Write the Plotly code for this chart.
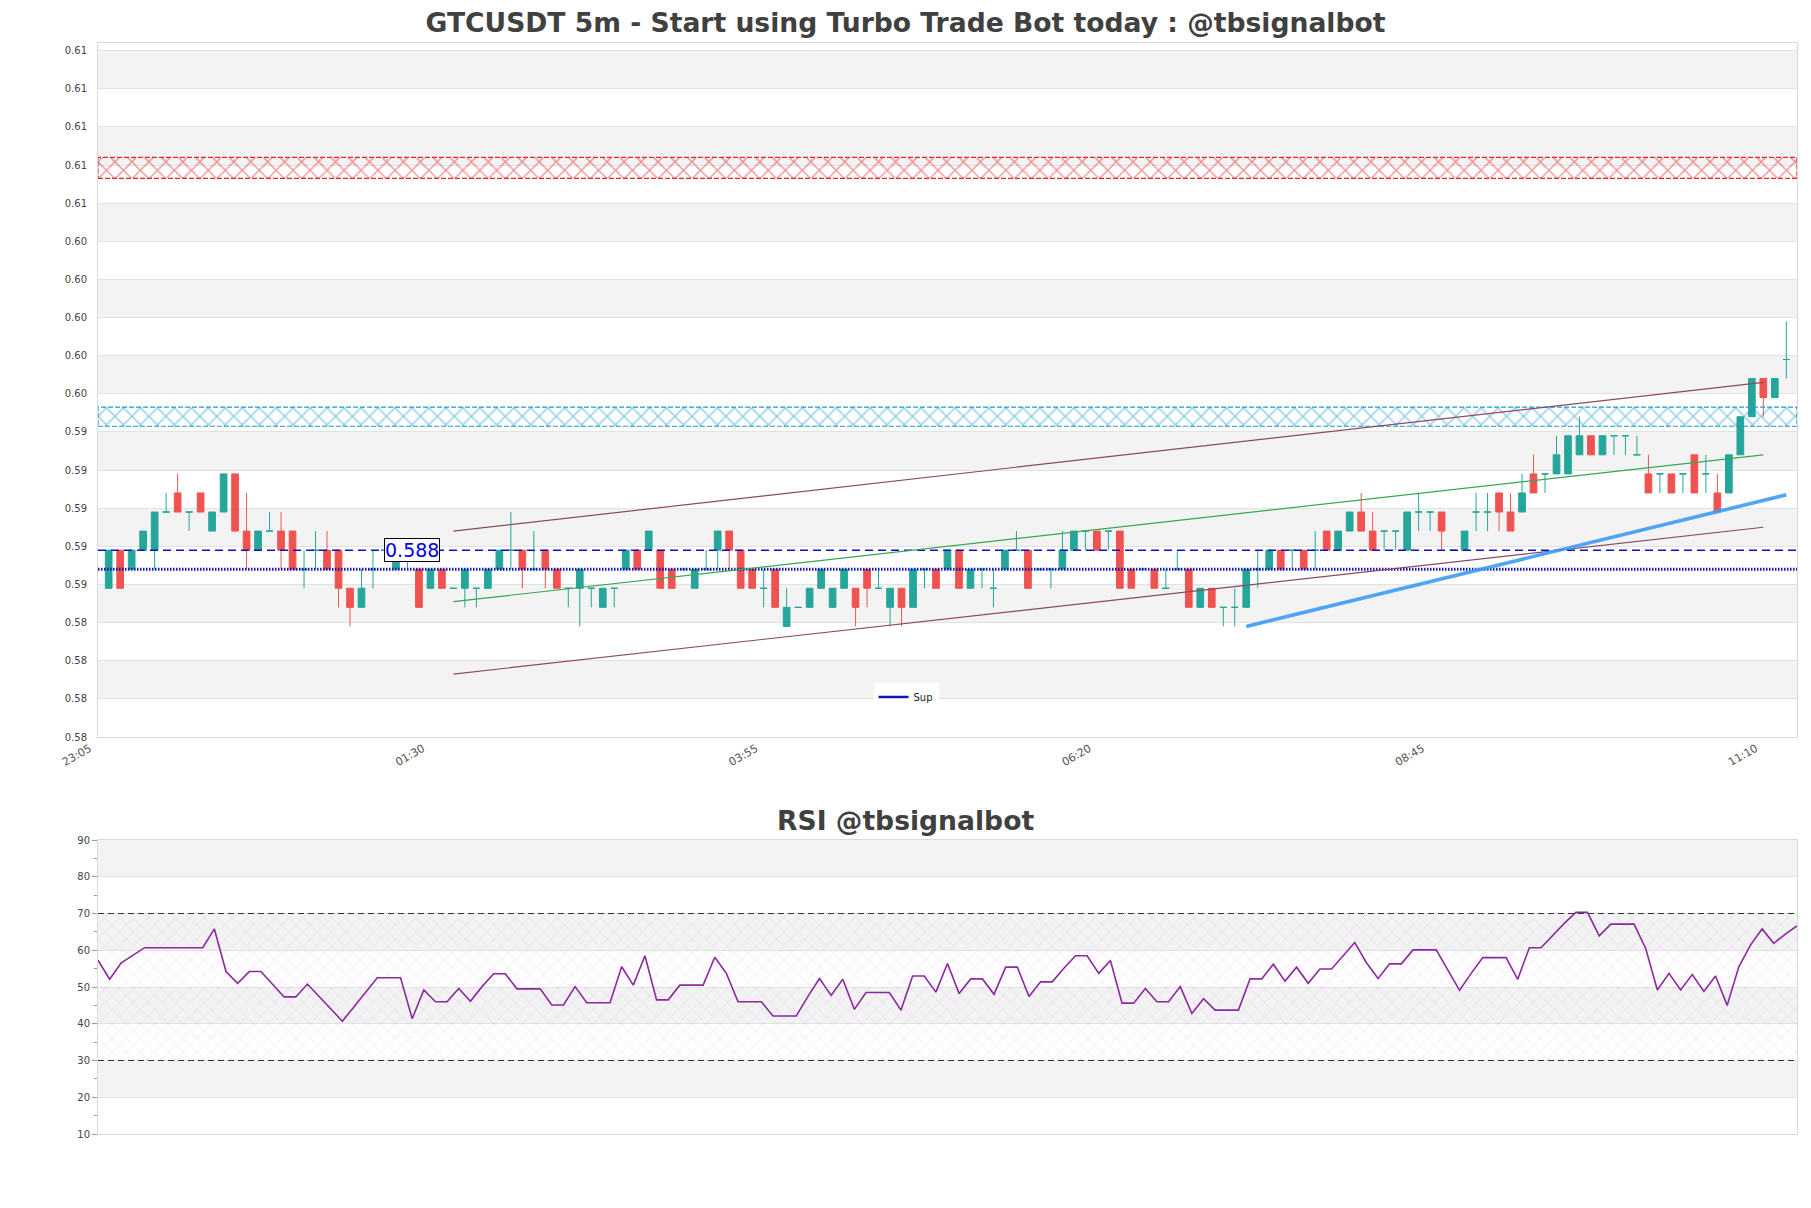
import plotly.graph_objects as go

# ---------------- data ----------------
time_labels = ["23:05", "01:30", "03:55", "06:20", "08:45", "11:10"]
time_label_index = [0, 29, 58, 87, 116, 145]

price_ticks = [0.5782, 0.5802, 0.5822, 0.5842, 0.5862, 0.5882, 0.5902, 0.5922, 0.5942,
               0.5962, 0.5982, 0.6002, 0.6022, 0.6042, 0.6062, 0.6082, 0.6102, 0.6122, 0.6142]
price_tick_labels = ["0.58", "0.58", "0.58", "0.58", "0.59", "0.59", "0.59", "0.59", "0.59",
                     "0.60", "0.60", "0.60", "0.60", "0.60", "0.61", "0.61", "0.61", "0.61", "0.61"]
rsi_ticks = [10, 20, 30, 40, 50, 60, 70, 80, 90]

open_p = [
    0.586, 0.588, 0.587, 0.588, 0.588, 0.590, 0.591, 0.590, 0.591, 0.589,
    0.590, 0.592, 0.589, 0.588, 0.589, 0.589, 0.589, 0.587, 0.588, 0.588,
    0.588, 0.586, 0.585, 0.587, 0.588, 0.587, 0.588, 0.587, 0.586, 0.587,
    0.586, 0.586, 0.586, 0.586, 0.587, 0.588, 0.588, 0.587, 0.588, 0.587,
    0.586, 0.586, 0.586, 0.585, 0.586, 0.587, 0.588, 0.588, 0.588, 0.587,
    0.587, 0.586, 0.587, 0.588, 0.589, 0.588, 0.587, 0.586, 0.587, 0.584,
    0.585, 0.585, 0.586, 0.585, 0.586, 0.586, 0.587, 0.586, 0.585, 0.586,
    0.585, 0.587, 0.587, 0.587, 0.588, 0.586, 0.587, 0.586, 0.587, 0.588,
    0.588, 0.587, 0.587, 0.587, 0.588, 0.589, 0.589, 0.589, 0.589, 0.587,
    0.587, 0.587, 0.586, 0.587, 0.587, 0.585, 0.586, 0.585, 0.585, 0.585,
    0.587, 0.587, 0.588, 0.588, 0.588, 0.588, 0.589, 0.588, 0.589, 0.590,
    0.589, 0.589, 0.589, 0.588, 0.590, 0.590, 0.590, 0.588, 0.588, 0.590,
    0.590, 0.591, 0.590, 0.590, 0.592, 0.592, 0.592, 0.592, 0.593, 0.594,
    0.593, 0.594, 0.594, 0.593, 0.592, 0.592, 0.592, 0.592, 0.593, 0.592,
    0.591, 0.591, 0.593, 0.595, 0.597, 0.596, 0.598]
high_p = [
    0.588, 0.588, 0.588, 0.589, 0.590, 0.591, 0.592, 0.590, 0.591, 0.590,
    0.592, 0.592, 0.591, 0.589, 0.590, 0.590, 0.589, 0.588, 0.589, 0.589,
    0.588, 0.586, 0.587, 0.588, 0.588, 0.588, 0.588, 0.587, 0.587, 0.587,
    0.586, 0.587, 0.586, 0.587, 0.588, 0.590, 0.588, 0.589, 0.588, 0.587,
    0.586, 0.587, 0.586, 0.586, 0.586, 0.588, 0.588, 0.589, 0.588, 0.587,
    0.587, 0.587, 0.588, 0.589, 0.589, 0.588, 0.587, 0.587, 0.587, 0.586,
    0.585, 0.586, 0.587, 0.586, 0.587, 0.586, 0.587, 0.587, 0.586, 0.586,
    0.587, 0.587, 0.587, 0.588, 0.588, 0.587, 0.587, 0.587, 0.588, 0.589,
    0.588, 0.587, 0.587, 0.589, 0.589, 0.589, 0.589, 0.589, 0.589, 0.587,
    0.587, 0.587, 0.587, 0.588, 0.587, 0.586, 0.586, 0.585, 0.586, 0.587,
    0.588, 0.588, 0.588, 0.588, 0.588, 0.589, 0.589, 0.589, 0.590, 0.591,
    0.590, 0.589, 0.589, 0.590, 0.591, 0.590, 0.590, 0.588, 0.589, 0.591,
    0.591, 0.591, 0.591, 0.592, 0.593, 0.592, 0.594, 0.594, 0.595, 0.594,
    0.594, 0.594, 0.594, 0.594, 0.593, 0.592, 0.592, 0.592, 0.593, 0.593,
    0.592, 0.593, 0.595, 0.597, 0.597, 0.597, 0.600]
low_p = [
    0.586, 0.586, 0.587, 0.588, 0.587, 0.590, 0.590, 0.589, 0.590, 0.589,
    0.590, 0.589, 0.587, 0.588, 0.589, 0.587, 0.587, 0.586, 0.587, 0.587,
    0.585, 0.584, 0.585, 0.586, 0.588, 0.587, 0.587, 0.585, 0.586, 0.586,
    0.586, 0.585, 0.585, 0.586, 0.587, 0.587, 0.586, 0.587, 0.586, 0.586,
    0.585, 0.584, 0.585, 0.585, 0.585, 0.587, 0.587, 0.588, 0.586, 0.586,
    0.587, 0.586, 0.587, 0.587, 0.587, 0.586, 0.586, 0.585, 0.585, 0.584,
    0.585, 0.585, 0.586, 0.585, 0.586, 0.584, 0.585, 0.586, 0.584, 0.584,
    0.585, 0.586, 0.586, 0.587, 0.586, 0.586, 0.586, 0.585, 0.587, 0.588,
    0.586, 0.587, 0.586, 0.587, 0.588, 0.588, 0.588, 0.588, 0.586, 0.586,
    0.587, 0.586, 0.586, 0.587, 0.585, 0.585, 0.585, 0.584, 0.584, 0.585,
    0.586, 0.587, 0.587, 0.587, 0.587, 0.587, 0.588, 0.588, 0.589, 0.589,
    0.588, 0.588, 0.588, 0.588, 0.589, 0.589, 0.588, 0.588, 0.588, 0.589,
    0.589, 0.589, 0.589, 0.590, 0.591, 0.591, 0.592, 0.592, 0.593, 0.593,
    0.593, 0.593, 0.593, 0.593, 0.591, 0.591, 0.591, 0.591, 0.591, 0.591,
    0.590, 0.591, 0.593, 0.595, 0.595, 0.596, 0.597]
close_p = [
    0.588, 0.586, 0.588, 0.589, 0.590, 0.590, 0.590, 0.590, 0.590, 0.590,
    0.592, 0.589, 0.588, 0.589, 0.589, 0.588, 0.587, 0.587, 0.588, 0.587,
    0.586, 0.585, 0.586, 0.587, 0.588, 0.588, 0.588, 0.585, 0.587, 0.586,
    0.586, 0.587, 0.586, 0.587, 0.588, 0.588, 0.587, 0.587, 0.587, 0.586,
    0.586, 0.587, 0.586, 0.586, 0.586, 0.588, 0.587, 0.589, 0.586, 0.586,
    0.587, 0.587, 0.587, 0.589, 0.588, 0.586, 0.586, 0.586, 0.585, 0.585,
    0.585, 0.586, 0.587, 0.586, 0.587, 0.585, 0.586, 0.586, 0.586, 0.585,
    0.587, 0.587, 0.586, 0.588, 0.586, 0.587, 0.587, 0.586, 0.588, 0.588,
    0.586, 0.587, 0.587, 0.588, 0.589, 0.589, 0.588, 0.589, 0.586, 0.586,
    0.587, 0.586, 0.586, 0.587, 0.585, 0.586, 0.585, 0.585, 0.585, 0.587,
    0.587, 0.588, 0.587, 0.588, 0.587, 0.588, 0.588, 0.589, 0.590, 0.589,
    0.588, 0.589, 0.589, 0.590, 0.590, 0.590, 0.589, 0.588, 0.589, 0.590,
    0.590, 0.590, 0.589, 0.591, 0.591, 0.592, 0.593, 0.594, 0.594, 0.593,
    0.594, 0.594, 0.594, 0.593, 0.591, 0.592, 0.591, 0.592, 0.591, 0.592,
    0.590, 0.593, 0.595, 0.597, 0.596, 0.597, 0.598]

rsi = [
    57.3, 52.1, 56.6, 58.7, 60.7, 60.7, 60.7, 60.7, 60.7, 60.7,
    65.8, 54.2, 51.0, 54.2, 54.2, 50.8, 47.3, 47.3, 50.8, 47.4,
    43.9, 40.7, 44.6, 48.5, 52.5, 52.5, 52.5, 41.4, 49.2, 46.0,
    46.0, 49.6, 46.1, 50.1, 53.6, 53.6, 49.5, 49.5, 49.5, 45.1,
    45.1, 50.1, 45.7, 45.7, 45.7, 55.5, 50.5, 58.5, 46.5, 46.5,
    50.5, 50.5, 50.5, 58.1, 53.7, 46.0, 46.0, 46.0, 42.1, 42.1,
    42.1, 47.4, 52.3, 47.7, 52.1, 43.9, 48.5, 48.5, 48.5, 43.7,
    53.0, 53.0, 48.6, 56.4, 48.2, 52.2, 52.2, 48.0, 55.4, 55.4,
    47.4, 51.4, 51.4, 55.1, 58.5, 58.5, 53.7, 57.2, 45.6, 45.6,
    49.6, 46.0, 46.0, 50.1, 42.8, 46.8, 43.7, 43.7, 43.7, 52.2,
    52.2, 56.2, 51.6, 55.4, 51.0, 54.9, 54.9, 58.5, 62.1, 56.6,
    52.3, 56.3, 56.3, 60.1, 60.1, 60.1, 54.6, 49.1, 53.7, 58.0,
    58.0, 58.0, 52.1, 60.7, 60.7, 64.1, 67.3, 70.3, 70.3, 63.9,
    67.1, 67.1, 67.1, 60.5, 49.2, 53.7, 49.2, 53.4, 48.8, 53.0,
    45.0, 55.5, 61.4, 65.8, 61.9, 64.4, 66.6]

resistance_zone = [0.6075, 0.6086]
support_zone = [0.5945, 0.5955]
level_dashed = 0.588
level_sup = 0.587
channel_x = [30, 144]
channel_upper = [0.5890, 0.5968]
channel_lower = [0.5815, 0.5892]
channel_mid = [0.5853, 0.5930]
trend_x = [99, 146]
trend_y = [0.5840, 0.5909]
rsi_levels = [30, 70]

# ---------------- figure ----------------
GREEN = "#26a69a"
RED = "#ef5350"
FONT = "DejaVu Sans"
n = len(close_p)
xs = list(range(n))
x_lo, x_hi = -0.93, n - 1 + 0.93

fig = go.Figure()

# zones (hatched)
for zone, col in [(resistance_zone, "#e0282a"), (support_zone, "#1d9bd0")]:
    fig.add_trace(go.Scatter(
        x=[x_lo, x_hi, x_hi, x_lo, x_lo],
        y=[zone[0], zone[0], zone[1], zone[1], zone[0]],
        mode="lines", fill="toself", fillcolor="rgba(255,255,255,0)",
        fillpattern=dict(shape="x", fgcolor=col, bgcolor="rgba(255,255,255,0)",
                         size=12, solidity=0.22),
        line=dict(color=col, width=1.2, dash="5px,2px"),
        showlegend=False, hoverinfo="skip", xaxis="x", yaxis="y"))

# horizontal levels
fig.add_trace(go.Scatter(x=[x_lo, x_hi], y=[level_dashed, level_dashed], mode="lines",
                         line=dict(color="#1010c8", width=1.5, dash="8px,5px"),
                         showlegend=False, hoverinfo="skip"))
fig.add_trace(go.Scatter(x=[x_lo, x_hi], y=[level_sup, level_sup], mode="lines",
                         line=dict(color="#1515b0", width=3, dash="1.5px,1.5px"),
                         showlegend=False, hoverinfo="skip"))
fig.add_trace(go.Scatter(x=[None], y=[None], mode="lines", name="Sup",
                         line=dict(color="#1515b0", width=2.5), showlegend=True))

# candles: split up / down so doji stay green
for col, cond in [(GREEN, lambda o, c: c >= o), (RED, lambda o, c: c < o)]:
    idx = [i for i in xs if cond(open_p[i], close_p[i])]
    fig.add_trace(go.Candlestick(
        x=idx,
        open=[open_p[i] for i in idx], high=[high_p[i] for i in idx],
        low=[low_p[i] for i in idx], close=[close_p[i] for i in idx],
        increasing=dict(line=dict(color=col, width=1), fillcolor=col),
        decreasing=dict(line=dict(color=col, width=1), fillcolor=col),
        whiskerwidth=0, showlegend=False, hoverinfo="skip"))

# trend lines
for ys, col, w in [(channel_upper, "#8b4a62", 1.2), (channel_lower, "#8b4a62", 1.2),
                   (channel_mid, "#36a853", 1.2)]:
    fig.add_trace(go.Scatter(x=channel_x, y=ys, mode="lines", line=dict(color=col, width=w),
                             showlegend=False, hoverinfo="skip"))
fig.add_trace(go.Scatter(x=trend_x, y=trend_y, mode="lines",
                         line=dict(color="rgba(60,155,245,0.9)", width=3.6),
                         showlegend=False, hoverinfo="skip"))

# RSI
fig.add_trace(go.Scatter(
    x=[0, n - 1, n - 1, 0, 0], y=[rsi_levels[0], rsi_levels[0], rsi_levels[1], rsi_levels[1], rsi_levels[0]],
    mode="lines", line=dict(width=0), fill="toself", fillcolor="rgba(255,255,255,0)",
    fillpattern=dict(shape="x", fgcolor="rgba(190,130,205,0.75)", bgcolor="rgba(0,0,0,0)",
                     size=10, solidity=0.08),
    showlegend=False, hoverinfo="skip", xaxis="x2", yaxis="y2"))
for lv in rsi_levels:
    fig.add_trace(go.Scatter(x=[0, n - 1], y=[lv, lv], mode="lines",
                             line=dict(color="#333333", width=1.2, dash="6px,4px"),
                             showlegend=False, hoverinfo="skip", xaxis="x2", yaxis="y2"))
fig.add_trace(go.Scatter(x=xs, y=rsi, mode="lines", line=dict(color="#8b2a9e", width=1.6),
                         showlegend=False, hoverinfo="skip", xaxis="x2", yaxis="y2"))

# background bands
shapes = []
for k in range(1, len(price_ticks) - 1, 2):
    shapes.append(dict(type="rect", xref="x domain", yref="y", x0=0, x1=1,
                       y0=price_ticks[k], y1=price_ticks[k + 1],
                       fillcolor="#f3f3f3", line=dict(width=0), layer="below"))
for k in range(1, len(rsi_ticks) - 1, 2):
    shapes.append(dict(type="rect", xref="x2 domain", yref="y2", x0=0, x1=1,
                       y0=rsi_ticks[k], y1=rsi_ticks[k + 1],
                       fillcolor="#f3f3f3", line=dict(width=0), layer="below"))

ML, MR, MT, MB = 98, 14, 43, 74
plot_h = 1208 - MT - MB
page_center = (1811 / 2 - ML) / (1811 - ML - MR)

fig.update_layout(
    width=1811, height=1208,
    margin=dict(l=ML, r=MR, t=MT, b=MB),
    paper_bgcolor="white", plot_bgcolor="white",
    font=dict(family=FONT, color="#444444", size=10),
    shapes=shapes,
    boxgap=0.17, boxgroupgap=0.3,
    title=dict(text="<b>GTCUSDT 5m - Start using Turbo Trade Bot today : @tbsignalbot</b>",
               x=0.5, xref="container", xanchor="center",
               y=1 - 23 / 1208, yref="container", yanchor="middle",
               font=dict(family=FONT, size=26.6, color="#404040")),
    xaxis=dict(domain=[0, 1], anchor="y", range=[x_lo, x_hi],
               tickvals=time_label_index, ticktext=time_labels, tickangle=-30,
               tickfont=dict(size=11, color="#555555"), ticklabelshift=-19,
               showgrid=False, zeroline=False, showline=True, mirror=True,
               linecolor="#d9d9d9", linewidth=1, rangeslider=dict(visible=False)),
    yaxis=dict(domain=[(1134 - 737) / plot_h, 1], anchor="x",
               range=[price_ticks[0], 0.6146],
               tickvals=price_ticks, ticktext=price_tick_labels,
               tickfont=dict(size=10, color="#444444"), ticklabelstandoff=8,
               showgrid=True, gridcolor="#e2e2e2", gridwidth=1, zeroline=False,
               showline=True, mirror=True, linecolor="#d9d9d9", linewidth=1),
    xaxis2=dict(domain=[0, 1], anchor="y2", range=[0, n - 1], showticklabels=False,
                showgrid=False, zeroline=False, showline=True, mirror=True,
                linecolor="#d9d9d9", linewidth=1),
    yaxis2=dict(domain=[0, (1134 - 840) / plot_h], anchor="x2", range=[10, 90],
                tickvals=rsi_ticks, ticks="outside", ticklen=5, tickcolor="#999999",
                minor=dict(ticks="outside", dtick=5, ticklen=3, tickcolor="#999999", showgrid=False),
                tickfont=dict(size=10, color="#444444"),
                showgrid=True, gridcolor="#e2e2e2", zeroline=False,
                showline=True, mirror=True, linecolor="#d9d9d9", linewidth=1),
    legend=dict(x=(906 - ML) / (1811 - ML - MR), y=(1134 - 697) / plot_h,
                xanchor="center", yanchor="middle", bgcolor="white",
                font=dict(size=10, color="#222222"), itemwidth=30),
    annotations=[
        dict(text="<b>RSI @tbsignalbot</b>", xref="paper", yref="paper",
             x=page_center, y=(1134 - 820) / plot_h, xanchor="center", yanchor="middle",
             showarrow=False, font=dict(family=FONT, size=26.6, color="#404040")),
        dict(text=f"{level_dashed:.3f}", xref="x", yref="y", x=26.4, y=level_dashed,
             xanchor="center", yanchor="middle", showarrow=False,
             font=dict(family=FONT, size=19, color="#0000ee"),
             bgcolor="white", bordercolor="black", borderwidth=1, borderpad=0),
    ],
)

fig.write_html("out.html")
